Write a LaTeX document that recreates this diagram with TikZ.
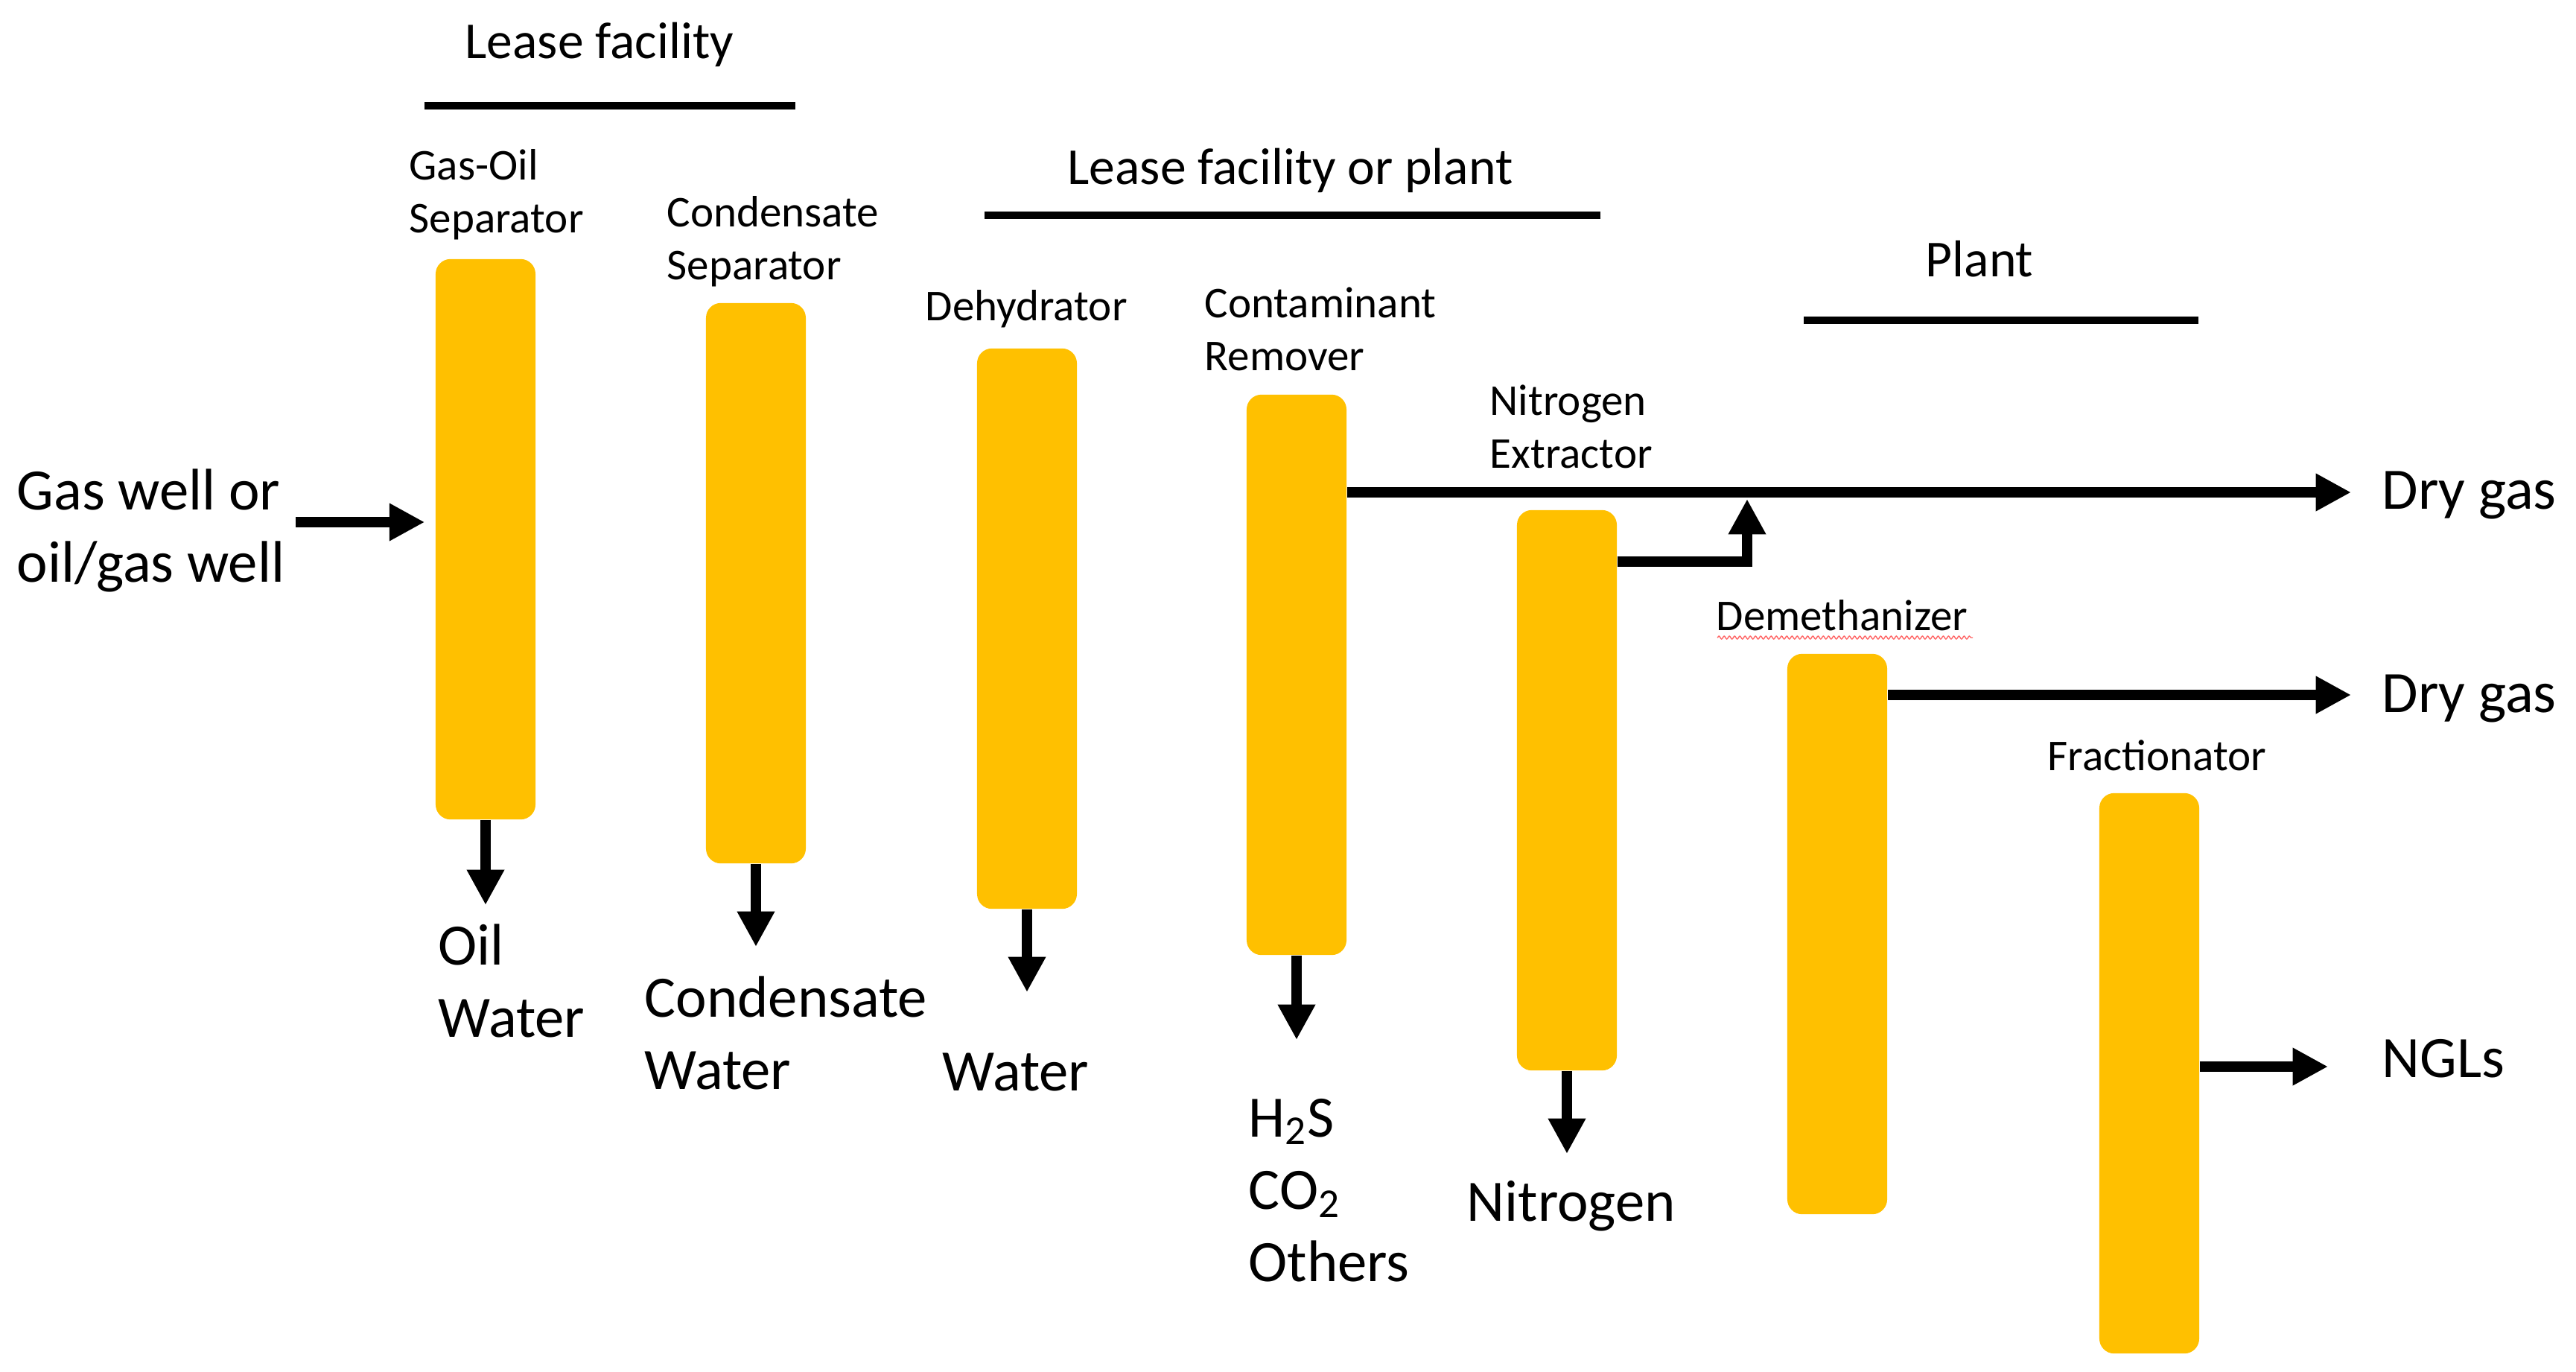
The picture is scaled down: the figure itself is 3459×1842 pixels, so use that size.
\documentclass[tikz,border=0pt]{standalone}
\usepackage{fontspec}
\setmainfont{Carlito}
\usetikzlibrary{arrows.meta,decorations.pathmorphing}
\definecolor{gold}{HTML}{FFC000}
\newcommand\stackII[2]{\vtop{\hbox{#1}\hbox{#2}}}
\newcommand\stackIII[3]{\vtop{\hbox{#1}\hbox{#2}\hbox{#3}}}
\begin{document}
\begin{tikzpicture}[x=0.01cm,y=-0.01cm,
  unit/.style={fill=gold, rounded corners=0.2cm, minimum width=1.34cm, minimum height=7.52cm, inner sep=0pt, draw=none},
  flow/.style={line width=4pt, -{Triangle[width=13.5pt,length=13.5pt]}},
  rulebar/.style={line width=2.8pt},
  small/.style={font=\fontsize{16.8}{20.2}\selectfont, inner sep=0pt, anchor=base west},
  big/.style={font=\fontsize{22.4}{27.6}\selectfont, inner sep=0pt, anchor=base west},
  head/.style={font=\fontsize{19.8}{23}\selectfont, inner sep=0pt, anchor=base west}]
\useasboundingbox (0,0) rectangle (3459,1842);

% headings and bars
\node[head] (h1) at (624,78) {Lease facility};
\coordinate (h1a) at (570,142); \coordinate (h1b) at (1068,142);
\draw[rulebar] (h1a) -- (h1b);
\node[head] (h2) at (1433,247) {Lease facility or plant};
\coordinate (h2a) at (1322,289); \coordinate (h2b) at (2149,289);
\draw[rulebar] (h2a) -- (h2b);
\node[head] (h3) at (2585,371) {Plant};
\coordinate (h3a) at (2422,430); \coordinate (h3b) at (2952,430);
\draw[rulebar] (h3a) -- (h3b);

% units
\node[unit] (b1) at (652,724) {};
\node[unit] (b2) at (1015,783) {};
\node[unit] (b3) at (1379,844) {};
\node[unit] (b4) at (1741,906) {};
\node[unit] (b5) at (2104,1061) {};
\node[unit] (b6) at (2467,1254) {};
\node[unit] (b7) at (2886,1441) {};

% unit labels
\node[small] (l1) at (549,241) {\stackII{Gas-Oil}{Separator}};
\node[small] (l2) at (895,304) {\stackII{Condensate}{Separator}};
\node[small] (l3) at (1242,430) {Dehydrator};
\node[small] (l4) at (1617,426) {\stackII{Contaminant}{Remover}};
\node[small] (l5) at (2000,557) {\stackII{Nitrogen}{Extractor}};
\node[small] (l6) at (2304,846) {Demethanizer};
\draw[red!60, line width=0.4pt, decorate, decoration={snake, amplitude=0.02cm, segment length=0.07cm}] (2306,856) -- (2649,856);
\node[small] (l7) at (2749,1034) {Fractionator};

% input
\node[big] (src) at (22,684) {\stackII{Gas well or}{oil/gas well}};
\coordinate (srcend) at (397,701);
\draw[flow, shorten >=0.14cm] (srcend) -- (b1.west |- srcend);

% outputs down
\coordinate (t1) at (652,1215);
\coordinate (t2) at (1015,1271);
\coordinate (t3) at (1379,1332);
\coordinate (t4) at (1741,1396);
\coordinate (t5) at (2104,1549);
\draw[flow] (b1.south) -- (t1);
\draw[flow] (b2.south) -- (t2);
\draw[flow] (b3.south) -- (t3);
\draw[flow] (b4.south) -- (t4);
\draw[flow] (b5.south) -- (t5);

\node[big] (o1) at (588,1295) {\stackII{Oil}{Water}};
\node[big] (o2) at (865,1365) {\stackII{Condensate}{Water}};
\node[big] (o3) at (1265,1464) {Water};
\node[big] (o4) at (1676,1526) {\stackIII{H\textsubscript{2}S}{CO\textsubscript{2}}{Others}};
\node[big] (o5) at (1969,1639) {Nitrogen};

% outputs right
\coordinate (dg1) at (3157,661);
\coordinate (dg2) at (3157,933);
\coordinate (ngl) at (3126,1432);
\coordinate (n2y) at (0,754);
\coordinate (join) at (2346,670);
\draw[flow] (b4.east |- dg1) -- (dg1);
\draw[flow] (b5.east |- n2y) -| (join);
\draw[flow] (b6.east |- dg2) -- (dg2);
\draw[flow] (b7.east |- ngl) -- (ngl);

\node[big] (d1) at (3198,683) {Dry gas};
\node[big] (d2) at (3198,956) {Dry gas};
\node[big] (d3) at (3198,1446) {NGLs};
\end{tikzpicture}
\end{document}
